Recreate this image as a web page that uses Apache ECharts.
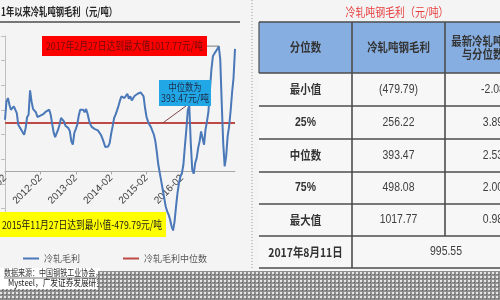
<!DOCTYPE html>
<html>
<head>
<meta charset="utf-8">
<script src="https://cdn.jsdelivr.net/npm/echarts@6/dist/echarts.min.js"></script>
<style>
  html, body { margin: 0; padding: 0; background: #f4f4f4; }
  #chart { width: 500px; height: 300px; }
</style>
</head>
<body>
<div id="chart"></div>
<script>
// Cold-rolled steel gross margin per tonne, half-monthly readings from 2011-02 to 2017-08
const firstYear = 2011;
const firstMonth = 2;
const marginValues = [
  420, 569, 596, 542, 501, 515, 528, 523, 474, 379, 358, 339, 325, 298, 352, 442,
  461, 659, 569, 509, 509, 480, 442, 442, 453, 461, 466, 474, 488, 501, 501, 461,
  385, 317, 279, 290, 339, 379, 434, 425, 407, 371, 385, 352, 325, 244, 217, 312,
  344, 379, 453, 501, 488, 501, 480, 507, 469, 415, 379, 360, 350, 344, 339, 333,
  325, 298, 271, 236, 198, 187, 203, 230, 306, 366, 434, 461, 496, 534, 577, 610,
  623, 596, 610, 631, 591, 610, 577, 596, 615, 623, 631, 615, 642, 650, 610, 515,
  442, 407, 379, 360, 344, 298, 244, 154, 54, -14, -81, -149, -217, -285, -325, -352,
  -393, -447, -479.79, -407, -285, -176, -95, -41, -14, 54, 203, 339, 501, 534, 230, 14,
  -19, 68, 108, 190, 244, 325, 312, 217, 339, 407, 488, 664, 827, 935, 957, 967,
  995, 1017.77, 908, 556, 230, 41, 122, 285, 366, 488, 637, 759, 995.55
];
const medianValue = 393.47;
const seriesNames = ['冷轧毛利', '冷轧毛利中位数'];
const yMin = -500;
const yMax = 1100;
const yStep = 200;

// Text blocks
const chartTitle = '1年以来冷轧吨钢毛利（元/吨）';
const maxNote = '2017年2月27日达到最大值1017.77元/吨';
const minNote = '2015年11月27日达到最小值-479.79元/吨';
const medianNote = ['中位数为', '393.47元/吨'];
const sourceLines = ['数据来源：中国钢铁工业协会，', 'Mysteel，广发证券发展研究中心'];

// Quantile table
const tableTitle = '冷轧吨钢毛利（元/吨）';
const headerCells = ['分位数', '冷轧吨钢毛利', ['最新冷轧吨钢毛利', '与分位数比值']];
const quantileNames = ['最小值', '25%', '中位数', '75%', '最大值'];
const quantileValues = ['(479.79)', '256.22', '393.47', '498.08', '1017.77'];
const latestRatios = ['-2.08', '3.89', '2.53', '2.00', '0.98'];
const latestDate = '2017年8月11日';
const latestValue = '995.55';

// Half-month category labels
const dates = [];
for (let i = 0; i < marginValues.length; i++) {
  const m = firstMonth - 1 + Math.floor(i / 2);
  const y = firstYear + Math.floor(m / 12);
  const mm = String(m % 12 + 1).padStart(2, '0');
  dates.push(y + '-' + mm + '-' + (i % 2 ? '15' : '01'));
}
const medianSeries = marginValues.map(() => medianValue);

const CJK = "'Noto Sans CJK SC', sans-serif";
const LAT = "'Liberation Sans', Arial, sans-serif";

// Plot box
const gridTop = 36;
const gridHeight = 197;
// the category axis runs along the zero line
const zeroOffset = -gridHeight * (0 - yMin) / (yMax - yMin);

const chart = echarts.init(document.getElementById('chart'), null, { renderer: 'canvas' });

chart.setOption({
  animation: false,
  backgroundColor: '#f4f4f4',
  grid: { left: 5, width: 230, top: gridTop, height: gridHeight, containLabel: false, outerBoundsMode: 'none' },
  legend: {
    data: seriesNames,
    left: 23, top: 254, padding: 0,
    icon: 'rect', itemWidth: 16, itemHeight: 2, itemGap: 43,
    textStyle: { fontSize: 9, color: '#595959', fontFamily: CJK }
  },
  xAxis: {
    type: 'category',
    data: dates,
    boundaryGap: false,
    offset: zeroOffset,
    axisLine: { onZero: false, lineStyle: { color: '#a6a6a6', width: 1 } },
    axisTick: { show: true, interval: 23, length: 3, lineStyle: { color: '#a6a6a6' } },
    axisLabel: {
      interval: 23, rotate: 45, margin: 5,
      showMinLabel: true, showMaxLabel: false,
      fontSize: 10, color: '#404040',
      fontFamily: LAT,
      formatter: v => v.slice(0, 7)
    },
    splitLine: { show: false }
  },
  yAxis: {
    type: 'value',
    min: yMin, max: yMax, interval: yStep,
    axisLine: { show: true, lineStyle: { color: '#bfbfbf' } },
    axisTick: { show: true, length: 4, lineStyle: { color: '#bfbfbf' } },
    axisLabel: { show: false },
    splitLine: { show: false }
  },
  series: [
    {
      name: seriesNames[0], type: 'line', data: marginValues,
      showSymbol: false, symbol: 'none', z: 3,
      lineStyle: { color: '#4a78b8', width: 2 }, itemStyle: { color: '#4a78b8' }
    },
    {
      name: seriesNames[1], type: 'line', data: medianSeries,
      showSymbol: false, symbol: 'none', z: 2,
      lineStyle: { color: '#bd4a47', width: 2 }, itemStyle: { color: '#bd4a47' }
    }
  ]
});

// ---- overlay drawing ----
const measureCtx = document.createElement('canvas').getContext('2d');
function text(str, x, y, opts) {
  const size = opts.size || 12;
  const weight = opts.bold ? 'bold' : 'normal';
  const font = weight + ' ' + size + 'px ' + (opts.family || CJK);
  let scaleX = opts.scaleX || 1;
  if (opts.width) {
    measureCtx.font = font;
    scaleX = opts.width / measureCtx.measureText(str).width;
  }
  const align = opts.align || 'center';
  return {
    type: 'text', x: x, y: y, scaleX: scaleX, z: opts.z || 100,
    style: {
      text: str, font: font, fill: opts.color || '#333',
      textAlign: align, align: align,
      textVerticalAlign: 'middle', verticalAlign: 'middle'
    }
  };
}
function rect(x, y, w, h, fill, z) {
  return { type: 'rect', z: z || 90, shape: { x: x, y: y, width: w, height: h }, style: { fill: fill } };
}
function line(x1, y1, x2, y2, stroke, width, dash, z) {
  return {
    type: 'line', z: z || 95, shape: { x1: x1, y1: y1, x2: x2, y2: y2 },
    style: { stroke: stroke, lineWidth: width || 1, lineDash: dash || null }
  };
}
function dotPattern() {
  const c = document.createElement('canvas');
  c.width = 4; c.height = 4;
  const g = c.getContext('2d');
  g.fillStyle = '#8f8f8f'; g.fillRect(0, 0, 4, 4);
  g.fillStyle = '#e6e6e6'; g.fillRect(0, 0, 2, 2);
  g.fillStyle = '#5e5e5e'; g.fillRect(2, 2, 1, 1);
  return { image: c, repeat: 'repeat' };
}

const els = [];

// Left panel heading
els.push(text(chartTitle, 1, 12, { size: 11, bold: true, align: 'left', width: 116, color: '#262626' }));
els.push(line(0, 22, 240, 22, '#4d4d4d', 1.5));

// Maximum note with leader to the peak
const maxIdx = marginValues.indexOf(Math.max.apply(null, marginValues));
const peak = chart.convertToPixel({ gridIndex: 0 }, [maxIdx, marginValues[maxIdx]]);
els.push(rect(42, 36, 165, 20, '#ff0000'));
els.push(text(maxNote, 124.5, 46, { size: 11, width: 157, color: '#6e0c0c' }));
els.push(line(207, peak[1], peak[0], peak[1], '#7a7a7a', 1));

// Median note with leader to the median line
const medianPt = chart.convertToPixel({ gridIndex: 0 }, [107, medianValue]);
els.push(rect(159, 80, 52, 26, '#22a7e6'));
els.push(text(medianNote[0], 185, 87, { size: 10, width: 33, color: '#1c2c48' }));
els.push(text(medianNote[1], 185, 98.5, { size: 10, width: 48, color: '#1c2c48' }));
els.push(line(186, 106, medianPt[0], medianPt[1], '#7d4545', 1));

// Minimum note
els.push(rect(0, 212, 166, 25, '#ffff00'));
els.push(text(minNote, 2, 224.5, { size: 11, align: 'left', width: 160, color: '#1a1a1a' }));

// Panel separator
els.push(line(252, 0, 252, 270, '#9a9a9a', 1, [1, 2]));

// Quantile table
const colX = [259, 352, 445, 540];
const rowY = [22, 73, 106, 139, 172, 204, 236, 268];
const colC = [305.5, 398.5, 493];
const TS = 0.87;
els.push(text(tableTitle, 397, 12, { size: 12, width: 103, color: '#e63b3b' }));
els.push(rect(colX[0], rowY[0], colX[3] - colX[0], rowY[1] - rowY[0], '#86aee0', 80));
els.push(rect(colX[0], rowY[1], colX[3] - colX[0], rowY[7] - rowY[1], '#f7f7f7', 80));
rowY.forEach(y => els.push(line(colX[0], y, 500, y, '#4d4d4d', 1.6)));
els.push(line(colX[0], rowY[0], colX[0], rowY[1], '#4d4d4d', 1.2));
els.push(line(colX[1], rowY[0], colX[1], rowY[7], '#4d4d4d', 1.6));
els.push(line(colX[2], rowY[0], colX[2], rowY[6], '#4d4d4d', 1.6));

const headerY = (rowY[0] + rowY[1]) / 2;
els.push(text(headerCells[0], colC[0], headerY, { size: 12, bold: true, scaleX: TS, color: '#333' }));
els.push(text(headerCells[1], colC[1], headerY, { size: 12, bold: true, scaleX: TS, color: '#333' }));
els.push(text(headerCells[2][0], colC[2], headerY - 6.5, { size: 12, bold: true, scaleX: TS, color: '#333' }));
els.push(text(headerCells[2][1], colC[2], headerY + 6.5, { size: 12, bold: true, scaleX: TS, color: '#333' }));

quantileNames.forEach((name, r) => {
  const cy = (rowY[r + 1] + rowY[r + 2]) / 2;
  const isLatin = /^[0-9%]+$/.test(name);
  els.push(text(name, colC[0], cy, { size: 12, bold: true, scaleX: TS, family: isLatin ? LAT : CJK, color: '#333' }));
  els.push(text(quantileValues[r], colC[1], cy, { size: 12, scaleX: TS, family: LAT, color: '#404040' }));
  els.push(text(latestRatios[r], colC[2], cy, { size: 12, scaleX: TS, family: LAT, color: '#404040' }));
});
const lastY = (rowY[6] + rowY[7]) / 2;
els.push(text(latestDate, colC[0], lastY, { size: 12, bold: true, scaleX: TS, color: '#333' }));
els.push(text(latestValue, (colX[1] + colX[3]) / 2, lastY, { size: 12, scaleX: TS, family: LAT, color: '#404040' }));

// Source block with dotted band
els.push(rect(0, 268, 100, 21, '#ffffff', 85));
els.push(text(sourceLines[0], 4, 273, { size: 9, align: 'left', scaleX: 0.78, color: '#333', z: 96 }));
els.push(line(4, 278, 100, 278, '#555', 0.8, null, 96));
els.push(text(sourceLines[1], 8, 283, { size: 9, align: 'left', scaleX: 0.85, color: '#222', z: 96 }));
const pat = dotPattern();
els.push({ type: 'rect', z: 120, shape: { x: 98, y: 271, width: 402, height: 29 }, style: { fill: pat } });
els.push({ type: 'rect', z: 120, shape: { x: 0, y: 289, width: 98, height: 11 }, style: { fill: pat } });

chart.setOption({ graphic: { elements: els } });
</script>
</body>
</html>
